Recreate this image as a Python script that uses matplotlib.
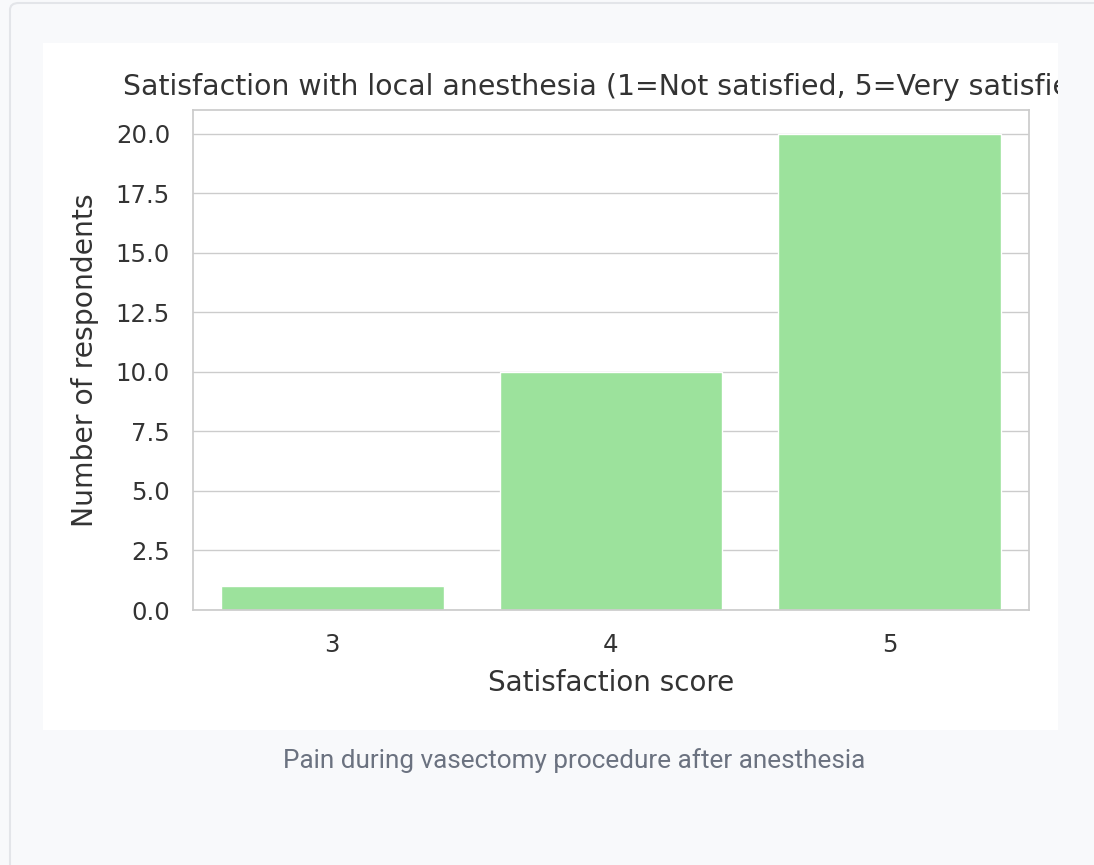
import matplotlib
matplotlib.use("Agg")
import matplotlib.pyplot as plt
import seaborn as sns
from matplotlib.patches import Rectangle, FancyBboxPatch
from matplotlib.transforms import Bbox, TransformedBbox

scores = ["3", "4", "5"]
counts = [1, 10, 20]
title = "Satisfaction with local anesthesia (1=Not satisfied, 5=Very satisfied)"
xlabel = "Satisfaction score"
ylabel = "Number of respondents"
caption = "Pain during vasectomy procedure after anesthesia"

sns.set_theme(style="whitegrid")
plt.rcParams['font.family'] = ['DejaVu Sans']

W, H = 1094, 865
fig = plt.figure(figsize=(W / 100, H / 100), dpi=100)
fig.patch.set_facecolor("#f8f9fb")

def fx(px):
    return px / W

def fy(py):
    return 1 - py / H

# outer card border
card = FancyBboxPatch((fx(10), fy(900)), fx(1200), fy(3) - fy(900),
                      boxstyle="round,pad=0,rounding_size=0.008",
                      transform=fig.transFigure, facecolor="#f8f9fb",
                      edgecolor="#e3e5e9", linewidth=1.5, zorder=-3)
fig.patches.append(card)
# white panel
panel = Rectangle((fx(43), fy(730)), fx(1058) - fx(43), fy(43) - fy(730),
                  transform=fig.transFigure, facecolor="white",
                  edgecolor="none", zorder=-2)
fig.patches.append(panel)

ax = fig.add_axes([fx(193), fy(610), fx(1029) - fx(193), fy(110) - fy(610)])
sns.barplot(x=scores, y=counts, color="lightgreen", ax=ax)
ax.set_ylim(0, 21)
yt = [0, 2.5, 5, 7.5, 10, 12.5, 15, 17.5, 20]
ax.set_yticks(yt)
ax.set_yticklabels([f"{v:.1f}" for v in yt])
ax.tick_params(axis="both", labelsize=17.6, colors="#333333", pad=10.5)
ax.set_xlabel(xlabel, fontsize=20, color="#333333", labelpad=9)
ax.set_ylabel(ylabel, fontsize=20.3, color="#333333", labelpad=12)
t = ax.set_title(title, fontsize=20.45, color="#333333", pad=10.5)
clip = TransformedBbox(Bbox([[fx(43), fy(730)], [fx(1058), fy(43)]]), fig.transFigure)
t.set_clip_box(clip)
t.set_clip_on(True)

fig.text(fx(574), fy(768), caption, ha="center", va="baseline",
         fontsize=18.8, color="#6b7280", family="Roboto")

fig.savefig("out.png", dpi=100, facecolor=fig.get_facecolor())
